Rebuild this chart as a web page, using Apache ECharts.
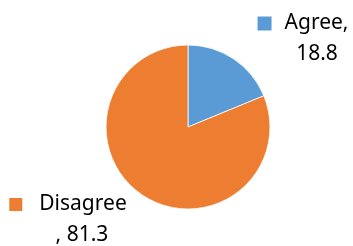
<!DOCTYPE html>
<html>
<head>
<meta charset="utf-8">
<script src="https://cdn.jsdelivr.net/npm/echarts@6/dist/echarts.min.js"></script>
<style>
  html, body { margin: 0; padding: 0; background: #fff; }
  #main { width: 353px; height: 246px; }
</style>
</head>
<body>
<div id="main"></div>
<script>
var categories = ['Agree', 'Disagree'];
var values = [18.8, 81.3];
var colors = ['#5B9BD5', '#ED7D31'];

// where each label block sits (square + two centered text lines)
var labelSpots = [
    { x: 303, y: 8 },
    { x: 68, y: 189 }
];
var secondLine = [
    function (p) { return p.value; },
    function (p) { return ', ' + p.value; }
];

var option = {
    series: [{
        type: 'pie',
        center: [188, 127],
        radius: 82,
        startAngle: 90,
        clockwise: true,
        silent: true,
        animation: false,
        itemStyle: { borderColor: '#ffffff', borderWidth: 0.8 },
        labelLine: { show: false },
        label: {
            show: true,
            position: 'inside',
            overflow: 'none',
            formatter: function (p) {
                var first = p.dataIndex === 0 ? p.name + ',' : p.name;
                return '{sq' + p.dataIndex + '|}{gap' + p.dataIndex + '|}{t|' + first + '}\n{sp|}{t|' + secondLine[p.dataIndex](p) + '}';
            },
            rich: {
                sq0: { width: 14, height: 14, backgroundColor: colors[0] },
                sq1: { width: 13, height: 13, backgroundColor: colors[1] },
                gap0: { width: 13 },
                gap1: { width: 17 },
                sp: { width: 28 },
                t: { fontFamily: 'Noto Sans', fontSize: 21, color: '#000000', lineHeight: 31 }
            },
            align: 'center'
        },
        labelLayout: function (params) {
            var s = labelSpots[params.dataIndex];
            return { x: s.x, y: s.y, align: 'center', verticalAlign: 'top' };
        },
        data: categories.map(function (c, i) {
            return { name: c, value: values[i], itemStyle: { color: colors[i] } };
        })
    }]
};

var myChart = echarts.init(document.getElementById('main'));
myChart.setOption(option);
</script>
</body>
</html>
